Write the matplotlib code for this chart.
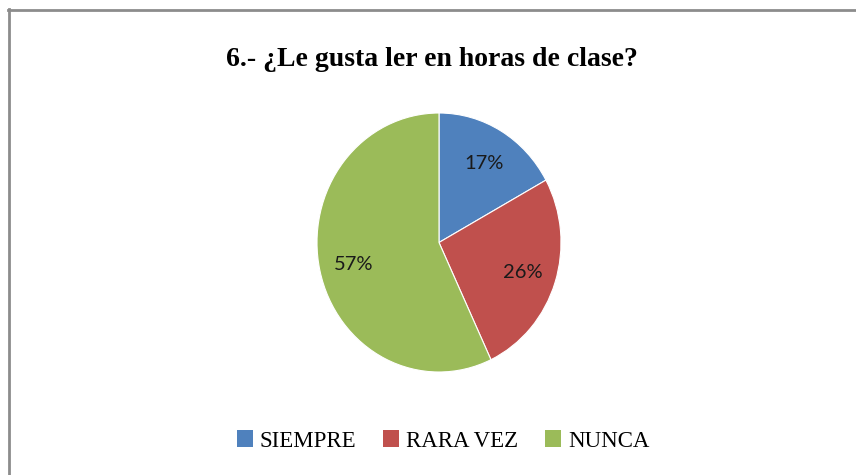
import matplotlib.pyplot as plt
from matplotlib.patches import Patch
from matplotlib.lines import Line2D

labels = ["SIEMPRE", "RARA VEZ", "NUNCA"]
values = [17, 26, 57]
colors = ["#4F81BD", "#C0504D", "#9BBB59"]
title = "6.- ¿Le gusta ler en horas de clase?"

fig = plt.figure(figsize=(8.56, 4.75), dpi=100)

# pie area (elliptical like the original)
W, H = 856, 475
ax = fig.add_axes([317 / W, 1 - 372 / H, 244 / W, 259 / H])
wedges, texts = ax.pie(values, colors=colors, startangle=90, counterclock=False,
                       wedgeprops=dict(linewidth=0.8, edgecolor="white"),
                       labels=[f"{v}%" for v in values], labeldistance=0.72,
                       textprops=dict(fontsize=14.5, family="Lato", color="#1a1a1a",
                                      ha="center", va="center_baseline"))
ax.set_aspect("auto")
ax.set_xlim(-1, 1)
ax.set_ylim(-1, 1)
ax.axis("off")

fig.text(432 / W, 1 - 59 / H, title, ha="center", va="center",
         fontsize=20, fontweight="bold", family="Liberation Serif")

handles = [Patch(facecolor=c, edgecolor="none") for c in colors]
fig.legend(handles, labels, loc="center", bbox_to_anchor=(443 / W, 1 - 441 / H),
           ncol=3, frameon=False, handlelength=0.72, handleheight=0.72,
           handletextpad=0.3, columnspacing=1.15,
           prop=dict(family="Liberation Serif", size=16.5))

# chart border (only top and left visible in the crop)
fig.add_artist(Line2D([9 / W, 9 / W], [0, 1 - 9 / H], transform=fig.transFigure,
                      color="#8c8c8c", linewidth=2))
fig.add_artist(Line2D([8 / W, 1], [1 - 10 / H, 1 - 10 / H], transform=fig.transFigure,
                      color="#8c8c8c", linewidth=2))

fig.savefig("out.png", dpi=100)
